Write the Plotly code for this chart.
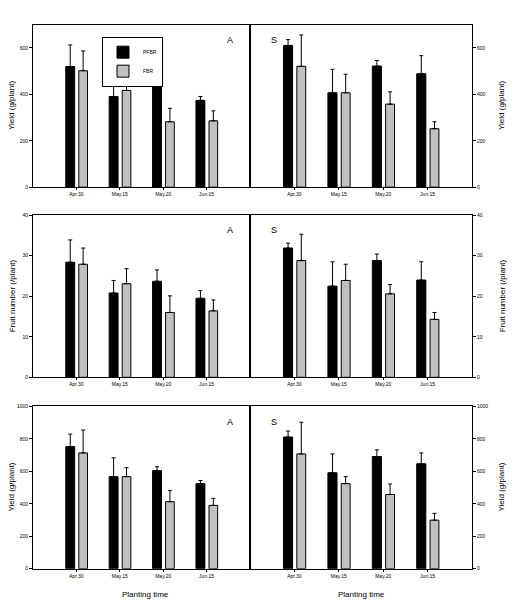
import plotly.graph_objects as go

categories = ["Apr.30", "May.15", "May.20", "Jun.15"]

# Row 1: Yield (g/plant), 0-700
yield1_A_pfbr = [520, 391, 434, 374]
yield1_A_pfbr_err = [93, 47, 52, 17]
yield1_A_fbr = [502, 417, 282, 286]
yield1_A_fbr_err = [85, 51, 58, 43]
yield1_S_pfbr = [611, 407, 522, 489]
yield1_S_pfbr_err = [25, 101, 24, 78]
yield1_S_fbr = [521, 407, 358, 252]
yield1_S_fbr_err = [135, 80, 53, 30]

# Row 2: Fruit number (/plant), 0-40
fruit_A_pfbr = [28.4, 20.8, 23.7, 19.5]
fruit_A_pfbr_err = [5.5, 3.1, 2.8, 1.9]
fruit_A_fbr = [27.9, 23.1, 16.0, 16.4]
fruit_A_fbr_err = [4.0, 3.7, 4.1, 2.7]
fruit_S_pfbr = [31.9, 22.5, 28.8, 24.0]
fruit_S_pfbr_err = [1.2, 6.0, 1.6, 4.5]
fruit_S_fbr = [28.8, 23.9, 20.6, 14.3]
fruit_S_fbr_err = [6.5, 4.0, 2.3, 1.7]

# Row 3: Yield (g/plant), 0-1000
yield3_A_pfbr = [752, 567, 604, 524]
yield3_A_pfbr_err = [77, 116, 24, 19]
yield3_A_fbr = [713, 567, 413, 390]
yield3_A_fbr_err = [141, 55, 69, 43]
yield3_S_pfbr = [811, 591, 691, 646]
yield3_S_pfbr_err = [37, 116, 41, 67]
yield3_S_fbr = [707, 524, 457, 299]
yield3_S_fbr_err = [195, 43, 65, 42]

W, H = 518, 615
FONT = "Liberation Sans, Arial, sans-serif"
BLACK = "#000000"
GRAY = "#c0c0c0"

def px(x):
    return x / W

def py(y):
    return 1 - y / H

xL = [px(33), px(250)]
xR = [px(250), px(472)]
rows_y = [[py(186), py(22)], [py(378), py(214.3)], [py(571.3), py(407.3)]]

panels = [
    (0, "L", yield1_A_pfbr, yield1_A_pfbr_err, yield1_A_fbr, yield1_A_fbr_err),
    (0, "R", yield1_S_pfbr, yield1_S_pfbr_err, yield1_S_fbr, yield1_S_fbr_err),
    (1, "L", fruit_A_pfbr, fruit_A_pfbr_err, fruit_A_fbr, fruit_A_fbr_err),
    (1, "R", fruit_S_pfbr, fruit_S_pfbr_err, fruit_S_fbr, fruit_S_fbr_err),
    (2, "L", yield3_A_pfbr, yield3_A_pfbr_err, yield3_A_fbr, yield3_A_fbr_err),
    (2, "R", yield3_S_pfbr, yield3_S_pfbr_err, yield3_S_fbr, yield3_S_fbr_err),
]

row_ranges = [[0, 700], [0, 40], [0, 1000]]
row_ticks = [[0, 200, 400, 600], [0, 10, 20, 30, 40], [0, 200, 400, 600, 800, 1000]]
row_titles = ["Yield (g/plant)", "Fruit number (/plant)", "Yield (g/plant)"]

fig = go.Figure()
layout = {}

for i, (row, side, pf, pfe, fb, fbe) in enumerate(panels):
    n = i + 1
    xa = "x" if n == 1 else f"x{n}"
    ya = "y" if n == 1 else f"y{n}"
    xkey = "xaxis" if n == 1 else f"xaxis{n}"
    ykey = "yaxis" if n == 1 else f"yaxis{n}"
    show_leg = (n == 1)
    fig.add_trace(go.Bar(
        x=categories, y=pf, name="PFBR", showlegend=show_leg,
        marker=dict(color=BLACK, line=dict(color=BLACK, width=1)),
        offset=-0.245, width=0.205,
        error_y=dict(type="data", array=pfe, arrayminus=[0] * len(pfe), symmetric=False,
                     color=BLACK, thickness=1, width=2),
        xaxis=xa, yaxis=ya,
    ))
    fig.add_trace(go.Bar(
        x=categories, y=fb, name="FBR", showlegend=show_leg,
        marker=dict(color=GRAY, line=dict(color=BLACK, width=1)),
        offset=0.055, width=0.2,
        error_y=dict(type="data", array=fbe, arrayminus=[0] * len(fbe), symmetric=False,
                     color=BLACK, thickness=1, width=2),
        xaxis=xa, yaxis=ya,
    ))
    layout[xkey] = dict(
        domain=xL if side == "L" else xR,
        anchor=ya, type="category", range=[-1, 4],
        showline=True, linecolor=BLACK, linewidth=1, mirror=True,
        ticks="outside", ticklen=2, tickcolor=BLACK,
        tickfont=dict(size=5, family=FONT, color=BLACK),
        showgrid=False, zeroline=False, fixedrange=True,
    )
    layout[ykey] = dict(
        domain=rows_y[row], anchor=xa, range=row_ranges[row],
        tickvals=row_ticks[row], side="left" if side == "L" else "right",
        showline=True, linecolor=BLACK, linewidth=1, mirror=True,
        ticks="outside", ticklen=3, tickcolor=BLACK,
        tickfont=dict(size=5, family=FONT, color=BLACK),
        showticklabels=True,
        showgrid=False, zeroline=False, fixedrange=True,
    )

annotations = []
for row in range(3):
    yc = (rows_y[row][0] + rows_y[row][1]) / 2
    annotations.append(dict(text=row_titles[row], x=px(12), y=yc, xref="paper", yref="paper",
                            textangle=-90, showarrow=False, xanchor="center", yanchor="middle",
                            font=dict(size=8, family=FONT, color=BLACK)))
    annotations.append(dict(text=row_titles[row], x=px(502), y=yc, xref="paper", yref="paper",
                            textangle=-90, showarrow=False, xanchor="center", yanchor="middle",
                            font=dict(size=8, family=FONT, color=BLACK)))
    ytop = [37, 229, 423][row]
    annotations.append(dict(text="A", x=px(230), y=py(ytop), xref="paper", yref="paper",
                            showarrow=False, xanchor="center", yanchor="middle",
                            font=dict(size=9, family=FONT, color=BLACK)))
    annotations.append(dict(text="S", x=px(274), y=py(ytop), xref="paper", yref="paper",
                            showarrow=False, xanchor="center", yanchor="middle",
                            font=dict(size=9, family=FONT, color=BLACK)))

for xc in [145, 361]:
    annotations.append(dict(text="Planting time", x=px(xc), y=py(597), xref="paper", yref="paper",
                            showarrow=False, xanchor="center", yanchor="middle",
                            font=dict(size=8, family=FONT, color=BLACK)))

fig.update_layout(
    width=W, height=H,
    margin=dict(l=0, r=0, t=0, b=0),
    paper_bgcolor="white", plot_bgcolor="white",
    barmode="overlay",
    showlegend=True,
    legend=dict(x=px(102), y=py(34), xanchor="left", yanchor="top",
                bordercolor=BLACK, borderwidth=1, bgcolor="white",
                font=dict(size=5, family=FONT, color=BLACK),
                itemwidth=30, tracegroupgap=0),
    annotations=annotations,
    **layout,
)

fig.write_html("out.html",
               config={"displayModeBar": False},
               post_script="document.body.style.margin='0';document.body.style.overflow='hidden';")
